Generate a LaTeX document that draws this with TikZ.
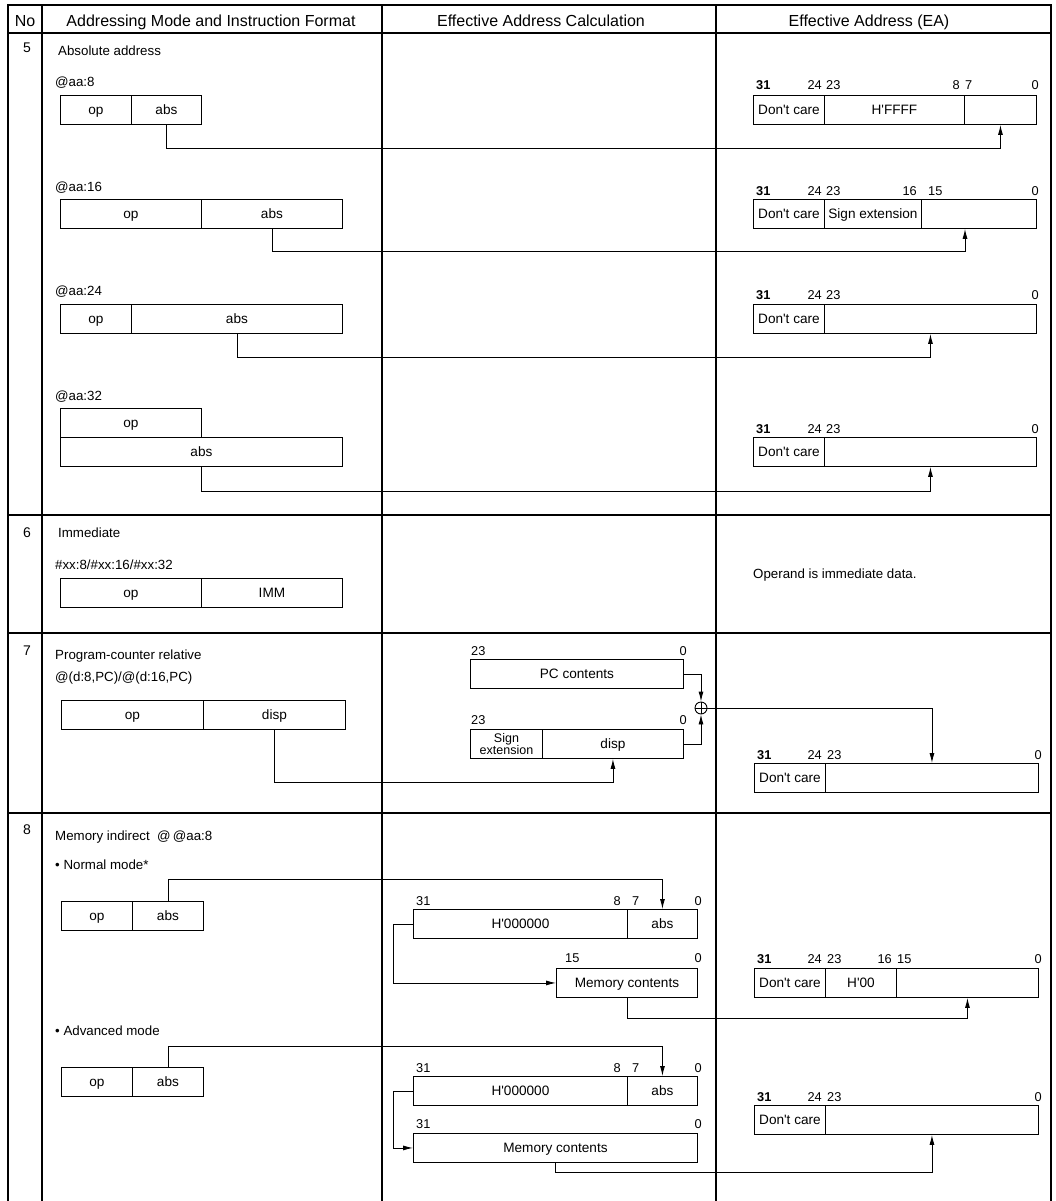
\documentclass[tikz,border=0pt]{standalone}
\usepackage{fontspec}
\setmainfont{Liberation Sans}
\usetikzlibrary{arrows.meta}
\newcommand\fsz[1]{\fontsize{#1}{#1}\selectfont}
\newcommand\aq{\textquotesingle}
\begin{document}
\begin{tikzpicture}[x=1pt,y=-1pt,
  fldbase/.style={draw, line width=0.9pt, inner sep=0pt, minimum height=29pt, anchor=north west, font=\fsz{13.6}},
  fld/.style={fldbase, text height=10pt, text depth=0pt},
  bitl/.style={inner sep=0pt, anchor=base west, font=\fsz{12.8}},
  bitr/.style={inner sep=0pt, anchor=base east, font=\fsz{12.8}},
  bitb/.style={inner sep=0pt, anchor=base west, font=\fsz{12.8}\bfseries},
  txt/.style={inner sep=0pt, anchor=base west, font=\fsz{13.3}},
  hdr/.style={inner sep=0pt, anchor=base, font=\fsz{16}},
  num/.style={inner sep=0pt, anchor=base, font=\fsz{14}},
  conn/.style={line width=0.9pt},
  arr/.style={conn, -{Latex[length=10pt,width=5pt]}},
  gridl/.style={line width=1.1pt},
  framel/.style={line width=2.2pt}]
\useasboundingbox (0,0) rectangle (1056,1201);
% table
\draw[framel] (8,1201) -- (8,5) -- (1051,5) -- (1051,1201);
\draw[gridl] (8,33) -- (1051,33) (8,515) -- (1051,515) (8,633) -- (1051,633) (8,813) -- (1051,813);
\draw[gridl] (42,5) -- (42,1201) (382,5) -- (382,1201) (716,5) -- (716,1201);
% header
\node[hdr] (h0) at (25,27) {No};
\node[hdr] (h1) at (211,27) {Addressing Mode and Instruction Format};
\node[hdr] (h2) at (541,27) {Effective Address Calculation};
\node[hdr] (h3) at (869,27) {Effective Address (EA)};
\node[num] (n5) at (27,53) {5};
\node[num] (n6) at (27,537) {6};
\node[num] (n7) at (27,655) {7};
\node[num] (n8) at (27,834) {8};
% ---- row 5
\node[txt] (t5) at (58,55.5) {Absolute address};
% @aa:8
\node[txt] (l8) at (55,86.5) {@aa:8};
\node[fld, minimum width=71pt] (a8op) at (60,95) {op};
\node[fld, minimum width=70pt] (a8abs) at (131,95) {abs};
\node[fld, minimum width=71pt] (e1a) at (753,95) {Don\aq t care};
\node[fld, minimum width=140pt] (e1b) at (824,95) {H\aq FFFF};
\node[fld, minimum width=72pt] (e1c) at (964,95) {};
\node[bitb] (b1a) at (756,90) {31};
\node[bitr] (b1b) at (822,90) {24};
\node[bitl] (b1c) at (826,90) {23};
\node[bitr] (b1d) at (960,90) {8};
\node[bitl] (b1e) at (965,90) {7};
\node[bitr] (b1f) at (1039,90) {0};
\draw[arr] (a8abs.south) -- ++(0,24) -| (e1c.south);
% @aa:16
\node[txt] (l16) at (55,192) {@aa:16};
\node[fld, minimum width=141pt] (a16op) at (60,199) {op};
\node[fld, minimum width=141pt] (a16abs) at (201,199) {abs};
\node[fld, minimum width=71pt] (e2a) at (753,199) {Don\aq t care};
\node[fld, minimum width=97pt] (e2b) at (824,199) {Sign extension};
\node[fld, minimum width=115pt] (e2c) at (921,199) {};
\node[bitb] (b2a) at (756,195) {31};
\node[bitr] (b2b) at (822,195) {24};
\node[bitl] (b2c) at (826,195) {23};
\node[bitr] (b2d) at (917,195) {16};
\node[bitl] (b2e) at (928,195) {15};
\node[bitr] (b2f) at (1039,195) {0};
\coordinate (x965) at (965,0);
\draw[arr] (a16abs.south) -- ++(0,23) -| (e2c.south -| x965);
% @aa:24
\node[txt] (l24) at (55,295) {@aa:24};
\node[fld, minimum width=71pt] (a24op) at (60,304) {op};
\node[fld, minimum width=211pt] (a24abs) at (131,304) {abs};
\node[fld, minimum width=71pt] (e3a) at (753,304) {Don\aq t care};
\node[fld, minimum width=212pt] (e3b) at (824,304) {};
\node[bitb] (b3a) at (756,299) {31};
\node[bitr] (b3b) at (822,299) {24};
\node[bitl] (b3c) at (826,299) {23};
\node[bitr] (b3f) at (1039,299) {0};
\draw[arr] (a24abs.south) -- ++(0,24) -| (e3b.south);
% @aa:32
\node[txt] (l32) at (55,400) {@aa:32};
\node[fld, minimum width=141pt] (a32op) at (60,408) {op};
\node[fld, minimum width=282pt] (a32abs) at (60,437) {abs};
\node[fld, minimum width=71pt] (e4a) at (753,437) {Don\aq t care};
\node[fld, minimum width=212pt] (e4b) at (824,437) {};
\node[bitb] (b4a) at (756,433) {31};
\node[bitr] (b4b) at (822,433) {24};
\node[bitl] (b4c) at (826,433) {23};
\node[bitr] (b4f) at (1039,433) {0};
\draw[arr] (a32abs.south) -- ++(0,25) -| (e4b.south);
% ---- row 6
\node[txt] (t6) at (58,537) {Immediate};
\node[txt] (l6) at (55,569) {\#xx:8/\#xx:16/\#xx:32};
\node[fld, minimum width=141pt] (imop) at (60,578) {op};
\node[fld, minimum width=141pt] (imimm) at (201,578) {IMM};
\node[txt] (t6ea) at (753,578) {Operand is immediate data.};
% ---- row 7
\node[txt] (t7) at (55,659) {Program-counter relative};
\node[txt] (l7) at (55,681) {@(d:8,PC)/@(d:16,PC)};
\node[fld, minimum width=142pt] (pcop) at (61,700) {op};
\node[fld, minimum width=142pt] (pcdisp) at (203,700) {disp};
\node[fld, minimum width=213pt] (pc) at (470,659) {PC contents};
\node[fldbase, minimum width=72pt, align=center, font=\fsz{12.5}] (se) at (470,729) {Sign\\extension};
\node[fld, minimum width=141pt] (sd) at (542,729) {disp};
\node[bitl] (c7a) at (471,655) {23};
\node[bitr] (c7b) at (687,655) {0};
\node[bitl] (c7c) at (471,724) {23};
\node[bitr] (c7d) at (687,724) {0};
\node[circle, draw, line width=0.9pt, minimum size=12pt, inner sep=0pt] (plus) at (701,708) {};
\draw[conn] (plus.north) -- (plus.south) (plus.west) -- (plus.east);
\node[fld, minimum width=71pt] (e7a) at (754,763) {Don\aq t care};
\node[fld, minimum width=213pt] (e7b) at (825,763) {};
\node[bitb] (b7a) at (757,759) {31};
\node[bitr] (b7b) at (822,759) {24};
\node[bitl] (b7c) at (827,759) {23};
\node[bitr] (b7f) at (1042,759) {0};
\draw[arr] (pc.east) -| (plus.north);
\draw[arr] (sd.east) -| (plus.south);
\draw[arr] (plus.east) -| (e7b.north);
\draw[arr] (pcdisp.south) -- ++(0,53) -| (sd.south);
% ---- row 8
\node[txt] (t8) at (55,840) {Memory indirect~~@\,@aa:8};
\node[txt] (l8n) at (55,869) {• Normal mode*};
\node[fld, minimum width=71pt] (n8op) at (61,901) {op};
\node[fld, minimum width=71pt] (n8abs) at (132,901) {abs};
\node[fld, minimum width=214pt] (nh) at (413,909) {H\aq 000000};
\node[fld, minimum width=70pt] (nha) at (627,909) {abs};
\node[bitl] (c8a) at (416,905) {31};
\node[bitr] (c8b) at (621,905) {8};
\node[bitl] (c8c) at (632,905) {7};
\node[bitr] (c8d) at (702,905) {0};
\node[fld, minimum width=141pt] (nmem) at (556,968) {Memory contents};
\node[bitl] (c8e) at (565,962) {15};
\node[bitr] (c8f) at (702,962) {0};
\node[fld, minimum width=71pt] (e8a) at (754,968) {Don\aq t care};
\node[fld, minimum width=71pt] (e8b) at (825,968) {H\aq 00};
\node[fld, minimum width=142pt] (e8c) at (896,968) {};
\node[bitb] (b8a) at (757,963) {31};
\node[bitr] (b8b) at (822,963) {24};
\node[bitl] (b8c) at (827,963) {23};
\node[bitr] (b8d) at (892,963) {16};
\node[bitl] (b8e) at (897,963) {15};
\node[bitr] (b8f) at (1042,963) {0};
\draw[arr] (n8abs.north) -- ++(0,-22) -| (nha.north);
\draw[arr] (nh.west) -- ++(-20,0) |- (nmem.west);
\draw[arr] (nmem.south) -- ++(0,21) -| (e8c.south);
% advanced
\node[txt] (l8a) at (55,1035) {• Advanced mode};
\node[fld, minimum width=71pt] (v8op) at (61,1067) {op};
\node[fld, minimum width=71pt] (v8abs) at (132,1067) {abs};
\node[fld, minimum width=214pt] (ah) at (413,1076) {H\aq 000000};
\node[fld, minimum width=70pt] (aha) at (627,1076) {abs};
\node[bitl] (c9a) at (416,1072) {31};
\node[bitr] (c9b) at (621,1072) {8};
\node[bitl] (c9c) at (632,1072) {7};
\node[bitr] (c9d) at (702,1072) {0};
\node[fld, minimum width=284pt] (amem) at (413,1133) {Memory contents};
\node[bitl] (c9e) at (416,1128) {31};
\node[bitr] (c9f) at (702,1128) {0};
\node[fld, minimum width=71pt] (e9a) at (754,1105) {Don\aq t care};
\node[fld, minimum width=213pt] (e9b) at (825,1105) {};
\node[bitb] (b9a) at (757,1101) {31};
\node[bitr] (b9b) at (822,1101) {24};
\node[bitl] (b9c) at (827,1101) {23};
\node[bitr] (b9f) at (1042,1101) {0};
\draw[arr] (v8abs.north) -- ++(0,-21) -| (aha.north);
\draw[arr] (ah.west) -- ++(-20,0) |- (amem.west);
\draw[arr] (amem.south) -- ++(0,10) -| (e9b.south);
\end{tikzpicture}
\end{document}
